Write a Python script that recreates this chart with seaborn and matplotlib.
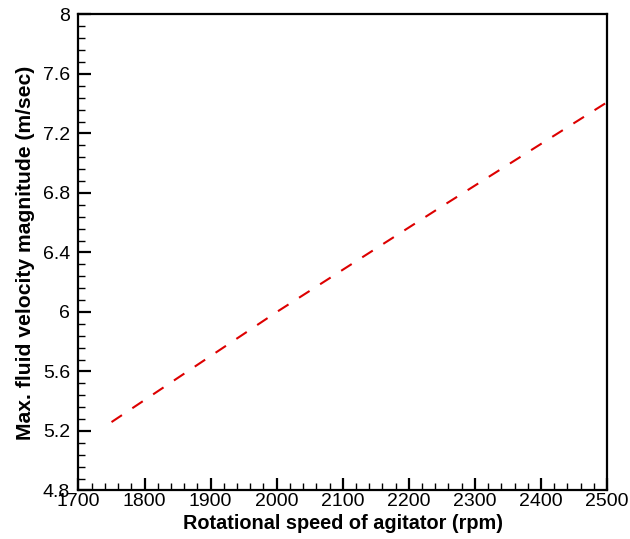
import matplotlib
matplotlib.use("Agg")
import matplotlib.pyplot as plt
from matplotlib.ticker import MultipleLocator, FixedLocator
import seaborn as sns
import pandas as pd

# Agitator speed vs. peak fluid velocity
rpm = [1750, 2000, 2250, 2500]
velocity = [5.26, 6.00, 6.71, 7.41]

x_ticks = [1700, 1800, 1900, 2000, 2100, 2200, 2300, 2400, 2500]
y_ticks = [4.8, 5.2, 5.6, 6.0, 6.4, 6.8, 7.2, 7.6, 8.0]
y_tick_labels = ["4.8", "5.2", "5.6", "6", "6.4", "6.8", "7.2", "7.6", "8"]

df = pd.DataFrame({"rpm": rpm, "velocity": velocity})

sns.set_style("ticks")
plt.rcParams["font.family"] = ["Liberation Sans", "DejaVu Sans"]
plt.rcParams["lines.scale_dashes"] = False
plt.rcParams["text.color"] = "black"
plt.rcParams["axes.labelcolor"] = "black"

fig = plt.figure(figsize=(6.3, 5.39), dpi=100)
ax = fig.add_axes([0.1246, 0.09, 0.839, 0.8831])

sns.lineplot(data=df, x="rpm", y="velocity", ax=ax, color="#dd0000",
             linewidth=1.5, linestyle=(0, (9, 9)))

ax.set_xlim(1700, 2500)
ax.set_ylim(4.8, 8.0)
ax.xaxis.set_major_locator(FixedLocator(x_ticks))
ax.yaxis.set_major_locator(FixedLocator(y_ticks))
ax.set_yticklabels(y_tick_labels)
ax.xaxis.set_minor_locator(MultipleLocator(20))
ax.yaxis.set_minor_locator(MultipleLocator(0.08))

for side in ["left", "right", "top", "bottom"]:
    ax.spines[side].set_visible(True)
    ax.spines[side].set_linewidth(1.6)
    ax.spines[side].set_color("black")

ax.tick_params(which="major", direction="in", length=9, width=1.6,
               labelsize=14, colors="black")
ax.tick_params(axis="y", which="major", pad=6)
ax.tick_params(axis="x", which="major", pad=2)
ax.tick_params(which="minor", direction="in", length=5, width=1.0,
               colors="black")
ax.tick_params(top=False, right=False, which="both")

ax.set_xlabel("Rotational speed of agitator (rpm)", fontsize=14.3,
              fontweight="bold", labelpad=3)
ax.set_ylabel("Max. fluid velocity magnitude (m/sec)", fontsize=15.2,
              fontweight="bold", labelpad=6)

fig.savefig("out.png", dpi=100)
